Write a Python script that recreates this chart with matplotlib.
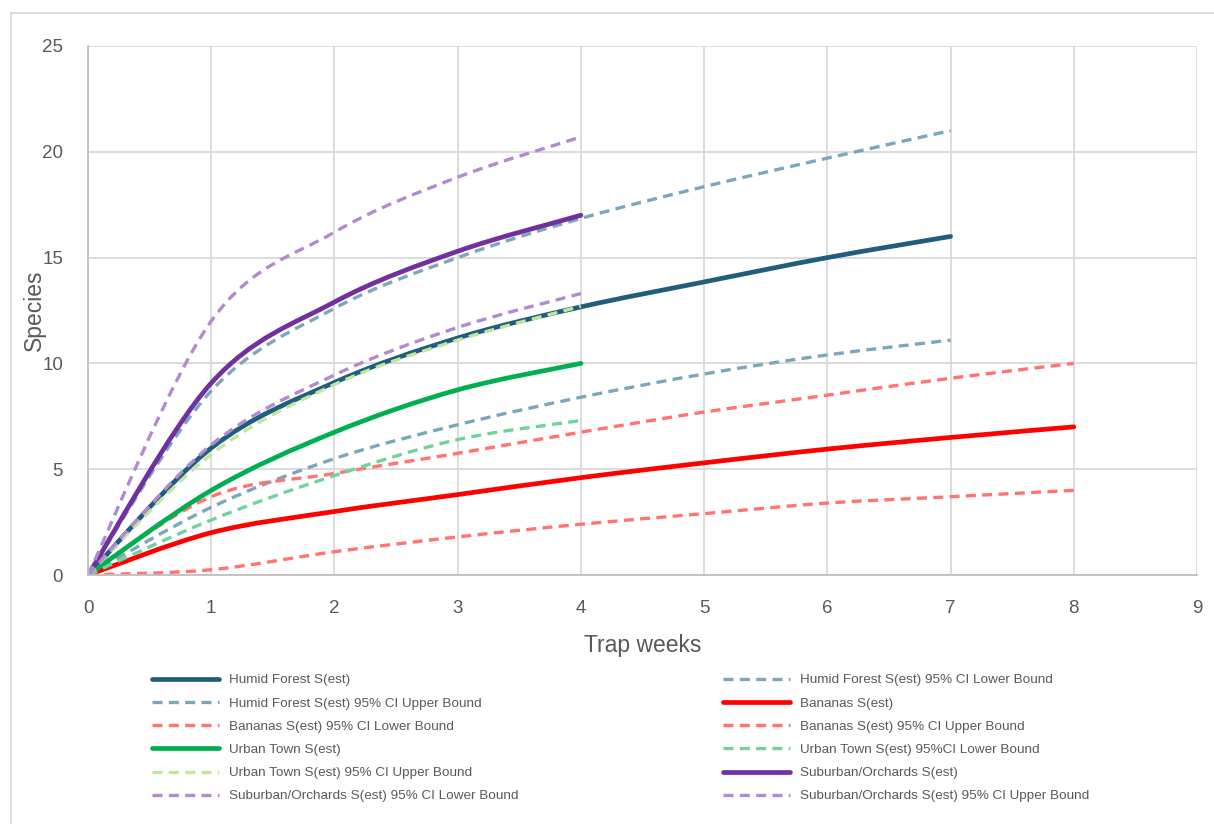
import matplotlib
matplotlib.use("Agg")
import matplotlib.pyplot as plt
from matplotlib.path import Path
from matplotlib.patches import PathPatch
from matplotlib.lines import Line2D

# species accumulation, values at each trap week
weeks_hf = [0, 1, 2, 3, 4, 5, 6, 7]
hf_est = [0, 6.0, 9.1, 11.2, 12.67, 13.85, 15.0, 16.0]
hf_lower = [0, 3.2, 5.5, 7.1, 8.4, 9.5, 10.4, 11.1]
hf_upper = [0, 8.7, 12.6, 15.0, 16.85, 18.35, 19.7, 21.0]

weeks_ban = [0, 1, 2, 3, 4, 5, 6, 7, 8]
ban_est = [0, 2.0, 3.0, 3.8, 4.6, 5.3, 5.95, 6.5, 7.0]
ban_lower = [0, 0.25, 1.1, 1.8, 2.4, 2.9, 3.4, 3.7, 4.0]
ban_upper = [0, 3.7, 4.8, 5.75, 6.75, 7.7, 8.5, 9.3, 10.0]

weeks_urb = [0, 1, 2, 3, 4]
urb_est = [0, 4.0, 6.75, 8.75, 10.0]
urb_lower = [0, 2.6, 4.7, 6.4, 7.3]
urb_upper = [0, 5.7, 9.0, 11.1, 12.7]

weeks_sub = [0, 1, 2, 3, 4]
sub_est = [0, 9.07, 12.9, 15.3, 17.0]
sub_lower = [0, 6.15, 9.45, 11.7, 13.3]
sub_upper = [0, 12.0, 16.2, 18.8, 20.7]

series = [
    ("Humid Forest S(est)", weeks_hf, hf_est, "#1F5E7E", "-"),
    ("Humid Forest S(est) 95% CI Lower Bound", weeks_hf, hf_lower, "#7BA6BB", "--"),
    ("Humid Forest S(est) 95% CI Upper Bound", weeks_hf, hf_upper, "#7BA6BB", "--"),
    ("Bananas S(est)", weeks_ban, ban_est, "#FF0000", "-"),
    ("Bananas S(est) 95% CI Lower Bound", weeks_ban, ban_lower, "#FF7373", "--"),
    ("Bananas S(est) 95% CI Upper Bound", weeks_ban, ban_upper, "#FF7373", "--"),
    ("Urban Town S(est)", weeks_urb, urb_est, "#00B050", "-"),
    ("Urban Town S(est) 95%CI Lower Bound", weeks_urb, urb_lower, "#6FD39B", "--"),
    ("Urban Town S(est) 95% CI Upper Bound", weeks_urb, urb_upper, "#C4E59D", "--"),
    ("Suburban/Orchards S(est)", weeks_sub, sub_est, "#7030A0", "-"),
    ("Suburban/Orchards S(est) 95% CI Lower Bound", weeks_sub, sub_lower, "#B28ACF", "--"),
    ("Suburban/Orchards S(est) 95% CI Upper Bound", weeks_sub, sub_upper, "#B28ACF", "--"),
]

DASH = (0, (3.0, 1.9))


def smooth_path(xs, ys):
    '''Excel-like smoothed line: cubic bezier through each point'''
    pts = list(zip(xs, ys))
    n = len(pts)
    verts = [pts[0]]
    codes = [Path.MOVETO]
    for i in range(n - 1):
        p0 = pts[max(i - 1, 0)]
        p1 = pts[i]
        p2 = pts[i + 1]
        p3 = pts[min(i + 2, n - 1)]
        c1 = (p1[0] + (p2[0] - p0[0]) / 6, p1[1] + (p2[1] - p0[1]) / 6)
        c2 = (p2[0] - (p3[0] - p1[0]) / 6, p2[1] - (p3[1] - p1[1]) / 6)
        verts += [c1, c2, p2]
        codes += [Path.CURVE4] * 3
    return Path(verts, codes)


plt.rcParams['font.family'] = ['Liberation Sans', 'DejaVu Sans']
fig = plt.figure(figsize=(12.14, 8.24), dpi=100)
W, H = 1214, 824
ax = fig.add_axes([88 / W, 1 - 575 / H, (1197 - 88) / W, (575 - 46) / H])

handles = []
for label, xs, ys, color, ls in series:
    if ls == "-":
        patch = PathPatch(smooth_path(xs, ys), fill=False, edgecolor=color,
                          lw=3.4, capstyle='round', joinstyle='round')
        h = Line2D([], [], color=color, lw=3.4, solid_capstyle='round')
    else:
        patch = PathPatch(smooth_path(xs, ys), fill=False, edgecolor=color,
                          lw=2.4, linestyle=DASH, capstyle='butt')
        h = Line2D([], [], color=color, lw=2.4, linestyle=DASH)
    ax.add_patch(patch)
    h.set_label(label)
    handles.append(h)

ax.set_xlim(0, 9)
ax.set_ylim(0, 25)
ax.set_xticks(range(0, 10))
ax.set_yticks(range(0, 26, 5))
ax.grid(True, color="#D9D9D9", lw=1.3)
ax.set_axisbelow(True)
for s in ["top", "right"]:
    ax.spines[s].set_visible(False)
for s in ["left", "bottom"]:
    ax.spines[s].set_color("#BFBFBF")
    ax.spines[s].set_linewidth(1.3)
ax.tick_params(length=0, labelsize=13.5, labelcolor="#595959", pad=18)
ax.set_xlabel("Trap weeks", fontsize=16.5, color="#595959")
ax.set_ylabel("Species", fontsize=16.5, color="#595959")
ax.xaxis.set_label_coords(0.5, -0.112)
ax.yaxis.set_label_coords(-0.038, 0.5)

# legend laid out row by row, two columns
leg_kw = dict(frameon=False, fontsize=9.7, labelcolor="#595959", handlelength=5.0,
              handletextpad=0.75, labelspacing=0.8, borderpad=0, borderaxespad=0,
              loc="upper left")
leg1 = fig.legend(handles=handles[0::2], bbox_to_anchor=(152 / W, 1 - 674 / H), **leg_kw)
leg2 = fig.legend(handles=handles[1::2], bbox_to_anchor=(723 / W, 1 - 674 / H), **leg_kw)

# chart area border
fig.add_artist(Line2D([11 / W, 11 / W], [0, 1 - 13 / H], color="#D9D9D9", lw=1.3))
fig.add_artist(Line2D([11 / W, 1], [1 - 13 / H, 1 - 13 / H], color="#D9D9D9", lw=1.3))

fig.savefig("out.png", dpi=100)
